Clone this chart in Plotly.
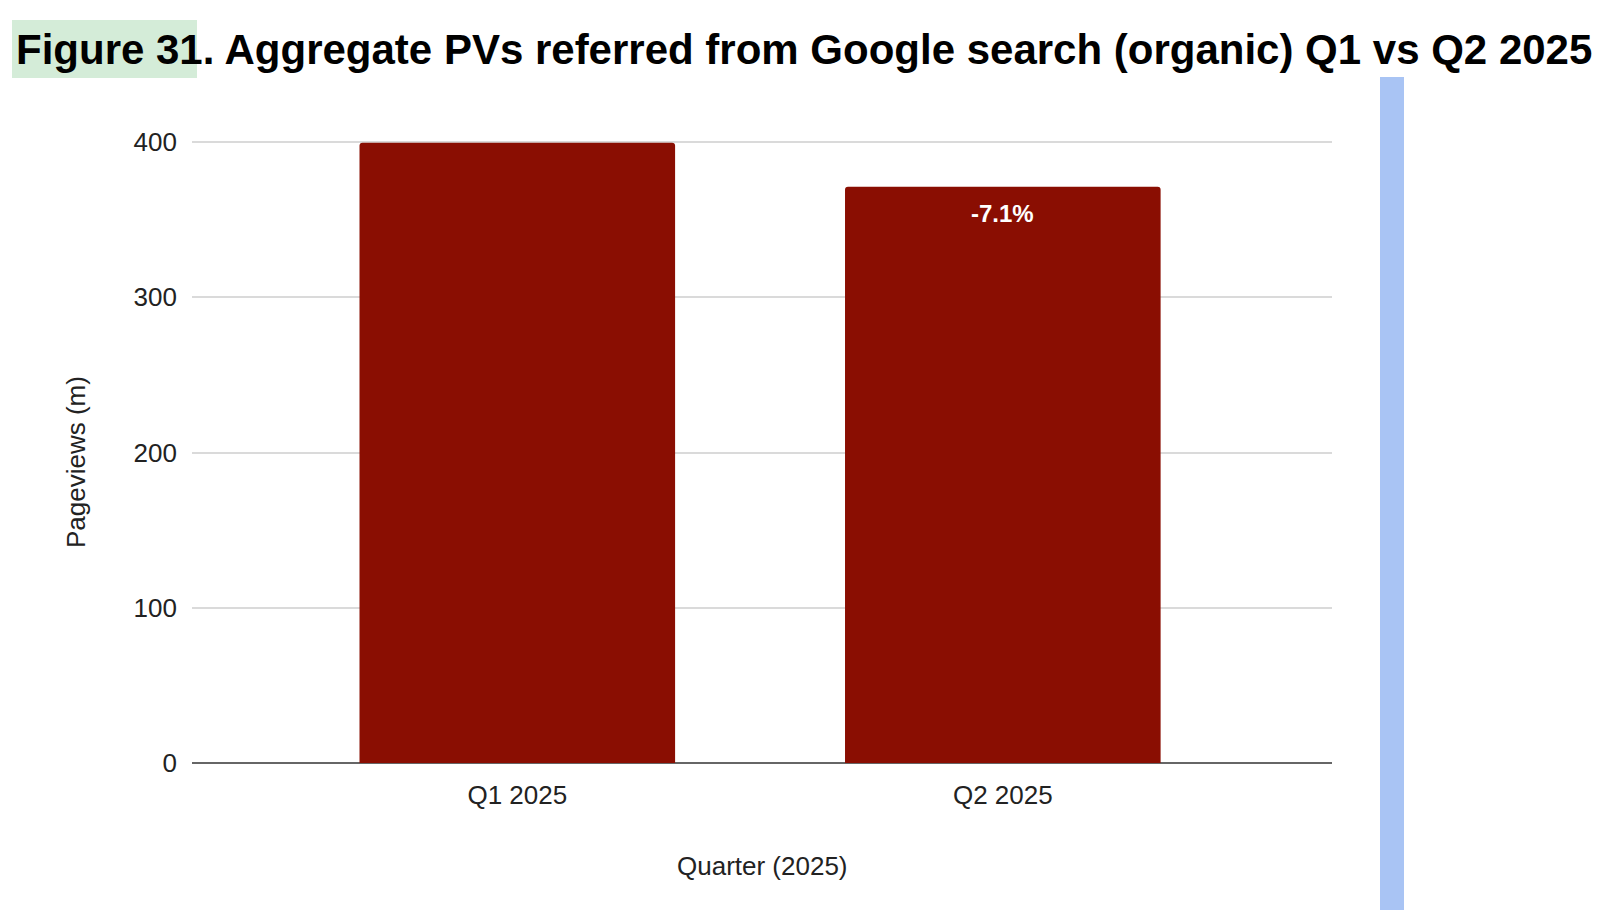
import plotly.graph_objects as go

# ---- data ----
quarters = ["Q1 2025", "Q2 2025"]
pageviews_m = [399.5, 371.1]
y_ticks = [0, 100, 200, 300, 400]
title_lead = "Figure 31"
title_rest = ". Aggregate PVs referred from Google search (organic) Q1 vs Q2 2025"
x_title = "Quarter (2025)"
y_title = "Pageviews (m)"

change_pct = (pageviews_m[1] / pageviews_m[0] - 1) * 100
change_label = f"{change_pct:.1f}%"

# ---- layout geometry (pixels) ----
W, H = 1600, 910
L, R = 192, 1332
T, B = 140, 763
pw, ph = R - L, B - T
y_top = 400 * ph / (B - 142)  # so that 400 sits at y=142 px


def px_x(x):
    return (x - L) / pw


def px_y(y):
    return (B - y) / ph


FONT = "Liberation Sans, Arial, sans-serif"
BAR = "#8a0e02"

fig = go.Figure()
fig.add_trace(go.Bar(
    x=quarters, y=pageviews_m,
    marker=dict(color=BAR, line=dict(width=0), cornerradius=3),
    hoverinfo="x+y",
))

fig.add_annotation(
    x=quarters[1], y=pageviews_m[1], xref="x", yref="y",
    text=f"<b>{change_label}</b>", showarrow=False,
    yanchor="middle", yshift=-27,
    font=dict(family=FONT, size=24, color="white"),
)

# title with highlighted lead
fig.add_shape(type="rect", xref="paper", yref="paper",
              x0=px_x(12), x1=px_x(197), y0=px_y(78), y1=px_y(20),
              fillcolor="#d4ecd8", line=dict(width=0), layer="below")
fig.add_annotation(
    xref="paper", yref="paper", x=px_x(14), y=px_y(49),
    xanchor="left", yanchor="middle", showarrow=False,
    text=f"<b>{title_lead}{title_rest}</b>",
    font=dict(family=FONT, size=42, color="#000000"),
)

# blue vertical bar at right
fig.add_shape(type="rect", xref="paper", yref="paper",
              x0=px_x(1380), x1=px_x(1404), y0=px_y(910), y1=px_y(77),
              fillcolor="#a9c4f4", line=dict(width=0), layer="above")

# axis titles
fig.add_annotation(
    xref="paper", yref="paper", x=px_x(762), y=px_y(866),
    xanchor="center", yanchor="middle", showarrow=False,
    text=x_title, font=dict(family=FONT, size=26, color="#222222"),
)
fig.add_annotation(
    xref="paper", yref="paper", x=px_x(76), y=px_y(462),
    xanchor="center", yanchor="middle", showarrow=False, textangle=-90,
    text=y_title, font=dict(family=FONT, size=26, color="#222222"),
)

fig.update_layout(
    width=W, height=H,
    margin=dict(l=L, r=W - R, t=T, b=H - B, autoexpand=False),
    paper_bgcolor="white", plot_bgcolor="white",
    bargap=0.35, showlegend=False,
    font=dict(family=FONT, size=26, color="#222222"),
    xaxis=dict(
        type="category", range=[-0.670, 1.678],
        showgrid=False, showline=False, zeroline=False,
        ticks="", ticklabelstandoff=14,
        tickfont=dict(family=FONT, size=26, color="#222222"),
    ),
    yaxis=dict(
        range=[0, y_top], tickvals=y_ticks,
        showgrid=True, gridcolor="#dadada", gridwidth=1.5,
        zeroline=True, zerolinecolor="#666666", zerolinewidth=2,
        showline=False, ticks="", ticklabelstandoff=14,
        tickfont=dict(family=FONT, size=26, color="#222222"),
    ),
)

fig.write_html("out.html")
